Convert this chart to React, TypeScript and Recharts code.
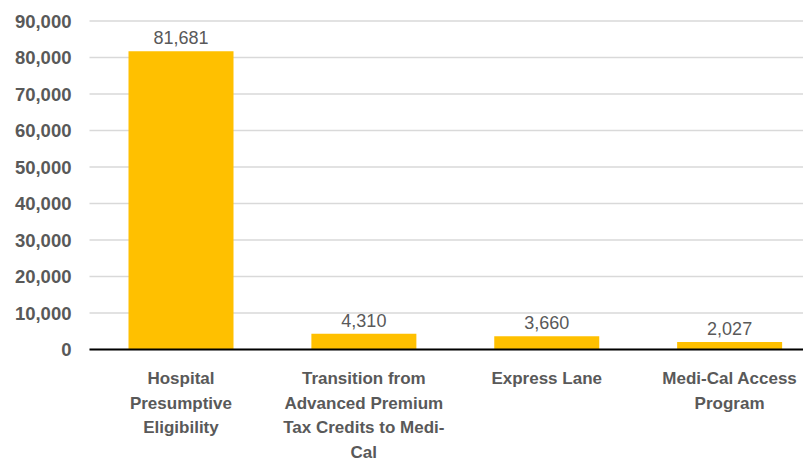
import React from 'react';
import { BarChart, Bar, XAxis, YAxis, CartesianGrid, LabelList } from 'recharts';

const categories = [
  'Hospital Presumptive Eligibility',
  'Transition from Advanced Premium Tax Credits to Medi-Cal',
  'Express Lane',
  'Medi-Cal Access Program',
];
const categoryLines = [
  ['Hospital', 'Presumptive', 'Eligibility'],
  ['Transition from', 'Advanced Premium', 'Tax Credits to Medi-', 'Cal'],
  ['Express Lane'],
  ['Medi-Cal Access', 'Program'],
];
const enrollments = [81681, 4310, 3660, 2027];
const yTicks = [0, 10000, 20000, 30000, 40000, 50000, 60000, 70000, 80000, 90000];

const data = categories.map((c, i) => ({ name: c, value: enrollments[i] }));

const FONT = '"Liberation Sans", Arial, sans-serif';
const GRAY = '#595959';

const fmt = (v: number) => v.toLocaleString('en-US');

const XTick = (props: any) => {
  const { x, y, payload } = props;
  const idx = categories.indexOf(payload.value);
  const lines = idx >= 0 ? categoryLines[idx] : [String(payload.value)];
  return (
    <g>
      {lines.map((ln, i) => (
        <text
          key={i}
          x={x}
          y={y + 34.5 + i * 24.6}
          textAnchor="middle"
          fill={GRAY}
          fontFamily={FONT}
          fontWeight="bold"
          fontSize={17}
        >
          {ln}
        </text>
      ))}
    </g>
  );
};

const YTick = (props: any) => {
  const { x, y, payload } = props;
  return (
    <text
      x={x}
      y={y}
      dy="0.36em"
      textAnchor="end"
      fill={GRAY}
      fontFamily={FONT}
      fontWeight="bold"
      fontSize={18.5}
    >
      {fmt(payload.value)}
    </text>
  );
};

const ValueLabel = (props: any) => {
  const { x, y, width, value } = props;
  return (
    <text
      x={x + width / 2}
      y={y - 7}
      textAnchor="middle"
      fill={GRAY}
      fontFamily={FONT}
      fontSize={18}
    >
      {fmt(value)}
    </text>
  );
};

export default function App() {
  return (
    <div style={{ width: 803, height: 454, overflow: 'hidden', background: '#fff' }}>
      <BarChart
        width={830}
        height={454}
        data={data}
        margin={{ top: 13, right: 17, bottom: 12.5, left: 1.5 }}
      >
        <CartesianGrid vertical={false} stroke="#D9D9D9" strokeWidth={1.5} />
        <XAxis
          dataKey="name"
          interval={0}
          tick={<XTick />}
          tickLine={false}
          tickSize={0}
          tickMargin={0}
          height={100}
          axisLine={{ stroke: '#000', strokeWidth: 2 }}
        />
        <YAxis
          domain={[0, 90000]}
          ticks={yTicks}
          width={80}
          tick={<YTick />}
          tickLine={false}
          axisLine={false}
          tickSize={0}
          tickMargin={18}
        />
        <Bar dataKey="value" fill="#FFC000" barSize={105} isAnimationActive={false}>
          <LabelList dataKey="value" content={<ValueLabel />} />
        </Bar>
      </BarChart>
    </div>
  );
}
